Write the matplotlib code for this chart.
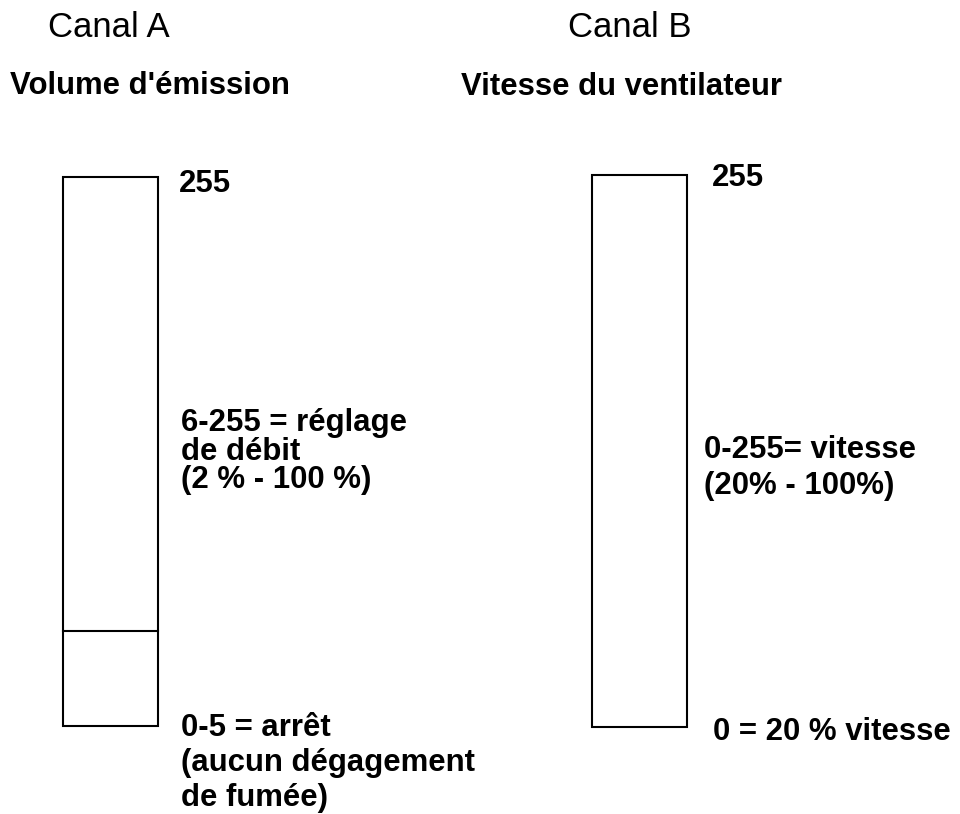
import matplotlib
matplotlib.use("Agg")
import matplotlib.pyplot as plt
from matplotlib.patches import Rectangle

# ---- content ----
channels = ["Canal A", "Canal B"]
functions = ["Volume d'émission", "Vitesse du ventilateur"]
top_values = ["255", "255"]
mid_labels = [["6-255 = réglage", "de débit", "(2 % - 100 %)"],
              ["0-255= vitesse", "(20% - 100%)"]]
bottom_labels = [["0-5 = arrêt", "(aucun dégagement", "de fumée)"],
                 ["0 = 20 % vitesse"]]
has_split = [True, False]

# ---- layout (pixels, origin top-left) ----
W, H = 960, 814
FONT = "Liberation Sans"
bar_x = [(63, 158), (592, 687)]
bar_y = [(177, 726), (175, 727)]
split_y = [631, None]
chan_xy = [(48, 37), (568, 37)]
func_xy = [(10, 94), (461, 95)]
top_xy = [(179, 192), (712, 186)]
label_x = [181, 704]
mid_base = [[431, 460, 488], [458, 494]]
bot_x = [181, 713]
bot_base = [[736, 771, 806], [740]]
LW = 1.5

fig = plt.figure(figsize=(W / 100, H / 100), dpi=100)
ax = fig.add_axes([0, 0, 1, 1])
ax.set_xlim(0, W)
ax.set_ylim(H, 0)
ax.axis("off")

bold = dict(family=FONT, fontweight="bold", fontsize=22.4, color="black",
            ha="left", va="baseline")

for i in range(2):
    x0, x1 = bar_x[i]
    y0, y1 = bar_y[i]
    ax.add_patch(Rectangle((x0, y0), x1 - x0, y1 - y0, fill=False,
                           edgecolor="black", linewidth=LW))
    if has_split[i]:
        ax.plot([x0, x1], [split_y[i], split_y[i]], color="black", linewidth=LW)
    ax.text(*chan_xy[i], channels[i], family=FONT, fontsize=25,
            ha="left", va="baseline", color="black")
    ax.text(*func_xy[i], functions[i], **bold)
    ax.text(*top_xy[i], top_values[i], **bold)
    for line, yb in zip(mid_labels[i], mid_base[i]):
        ax.text(label_x[i], yb, line, **bold)
    for line, yb in zip(bottom_labels[i], bot_base[i]):
        ax.text(bot_x[i], yb, line, **bold)

fig.savefig("out.png", dpi=100, facecolor="white")
